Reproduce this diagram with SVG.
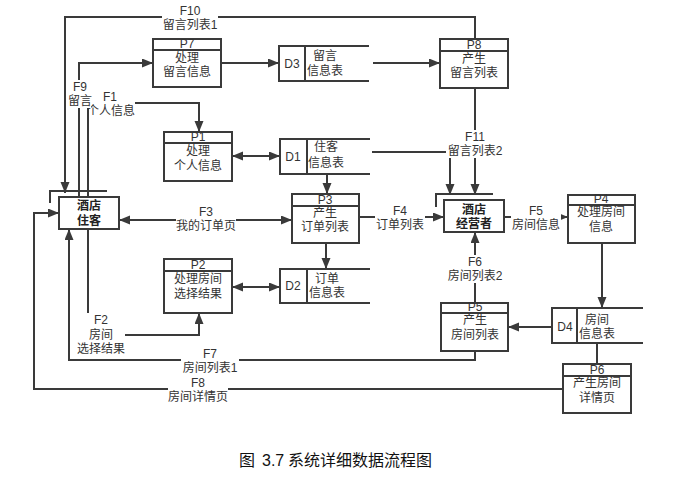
<svg xmlns="http://www.w3.org/2000/svg" width="699" height="485" viewBox="0 0 699 485">
<style>
text{font-family:"Liberation Sans","Noto Sans CJK SC",sans-serif;font-size:12px;fill:#333;text-anchor:middle;dominant-baseline:central}
.box{fill:#fff;stroke:#3a3a3a;stroke-width:2}
.ln{fill:none;stroke:#3a3a3a;stroke-width:2}
.c{fill:none;stroke:#3a3a3a;stroke-width:2}
.a{marker-end:url(#ah)}
.b{marker-start:url(#ah);marker-end:url(#ah)}
.bg{fill:#fff}
.ent{font-weight:bold;fill:#222}
.cap{font-size:16px;fill:#111;text-anchor:start;dominant-baseline:auto}
</style>
<defs>
<marker id="ah" markerUnits="userSpaceOnUse" markerWidth="12" markerHeight="10" refX="11" refY="4.5" orient="auto-start-reverse">
<path d="M0,0 L11,4.5 L0,9 z" fill="#3a3a3a"/>
</marker>
</defs>
<rect width="699" height="485" fill="#fff"/>

<g id="connectors">
<path class="c a" d="M475,39 V17 H65 V193"/>
<path class="c a" d="M79,197 V63 H153"/>
<path class="c a" d="M88,197 V103 H199 V132"/>
<path class="c b" d="M232,156 H280"/>
<path class="c a" d="M221,63 H279"/>
<path class="c a" d="M373,63 H440"/>
<path class="c a" d="M475,88 V195"/>
<path class="c a" d="M372,152 H450 V195"/>
<path class="c a" d="M327,174 V194"/>
<path class="c b" d="M119,220 H292"/>
<path class="c a" d="M359,217 H444"/>
<path class="c b" d="M232,287 H280"/>
<path class="c a" d="M326,243 V269"/>
<path class="c a" d="M88,229 V335 H199 V313"/>
<path class="c a" d="M475,351 V360 H69 V229"/>
<path class="c a" d="M563,389 H34 V213 H59"/>
<path class="c a" d="M504,217 H568"/>
<path class="c a" d="M602,243 V308"/>
<path class="c a" d="M552,327 H508"/>
<path class="c a" d="M475,303 V232"/>
<path class="c" d="M597,343 V364"/>
</g>

<g id="labels">
<rect class="bg" x="162" y="4" width="56" height="28"/>
<text x="190" y="11">F10</text><text x="190" y="25">留言列表1</text>
<rect class="bg" x="90" y="90" width="45" height="28"/>
<text x="110" y="97">F1</text><text x="111" y="111">个人信息</text>
<rect class="bg" x="67" y="80" width="24" height="28"/>
<text x="80" y="87">F9</text><text x="80" y="101">留言</text>
<rect class="bg" x="446" y="130" width="58" height="28"/>
<text x="475" y="137">F11</text><text x="475" y="151">留言列表2</text>
<rect class="bg" x="176" y="205" width="60" height="28"/>
<text x="206" y="212">F3</text><text x="206" y="226">我的订单页</text>
<rect class="bg" x="375" y="204" width="50" height="28"/>
<text x="400" y="211">F4</text><text x="400" y="225">订单列表</text>
<rect class="bg" x="511" y="204" width="50" height="28"/>
<text x="536" y="211">F5</text><text x="536" y="225">房间信息</text>
<rect class="bg" x="446" y="255" width="58" height="28"/>
<text x="475" y="262">F6</text><text x="475" y="276">房间列表2</text>
<rect class="bg" x="75" y="313" width="50" height="43"/>
<text x="101" y="320">F2</text><text x="101" y="335">房间</text><text x="101" y="349">选择结果</text>
<rect class="bg" x="181" y="347" width="58" height="28"/>
<text x="210" y="354">F7</text><text x="210" y="368">房间列表1</text>
<rect class="bg" x="168" y="376" width="60" height="28"/>
<text x="198" y="383">F8</text><text x="198" y="397">房间详情页</text>
</g>

<g id="guest">
<path class="ln" d="M50,203 V191 H107"/>
<rect class="box" x="59" y="197" width="60" height="32"/>
<text class="ent" x="89" y="206">酒店</text><text class="ent" x="89" y="221">住客</text>
</g>
<g id="manager">
<path class="ln" d="M436,207 V194 H493"/>
<rect class="box" x="444" y="200" width="60" height="32"/>
<text class="ent" x="474" y="210">酒店</text><text class="ent" x="474" y="224">经营者</text>
</g>

<g id="P7">
<rect class="box" x="153" y="39" width="68" height="48"/><path class="ln" d="M153,50 H221"/>
<text x="187" y="44">P7</text><text x="187" y="58">处理</text><text x="187" y="72">留言信息</text>
</g>
<g id="P8">
<rect class="box" x="440" y="39" width="68" height="49"/><path class="ln" d="M440,51 H508"/>
<text x="474" y="45">P8</text><text x="474" y="59">产生</text><text x="474" y="73">留言列表</text>
</g>
<g id="P1">
<rect class="box" x="164" y="132" width="68" height="49"/><path class="ln" d="M164,143 H232"/>
<text x="198" y="137">P1</text><text x="198" y="151">处理</text><text x="198" y="166">个人信息</text>
</g>
<g id="P3">
<rect class="box" x="292" y="194" width="67" height="49"/><path class="ln" d="M292,206 H359"/>
<text x="325" y="200">P3</text><text x="325" y="213">产生</text><text x="325" y="227">订单列表</text>
</g>
<g id="P2">
<rect class="box" x="164" y="259" width="68" height="54"/><path class="ln" d="M164,271 H232"/>
<text x="198" y="265">P2</text><text x="198" y="279">处理房间</text><text x="198" y="294">选择结果</text>
</g>
<g id="P4">
<rect class="box" x="568" y="195" width="67" height="48"/><path class="ln" d="M568,205 H635"/>
<text x="601" y="199">P4</text><text x="601" y="212">处理房间</text><text x="601" y="227">信息</text>
</g>
<g id="P5">
<rect class="box" x="441" y="303" width="67" height="48"/><path class="ln" d="M441,313 H508"/>
<text x="475" y="307">P5</text><text x="475" y="320">产生</text><text x="475" y="335">房间列表</text>
</g>
<g id="P6">
<rect class="box" x="563" y="364" width="68" height="49"/><path class="ln" d="M563,376 H631"/>
<text x="597" y="370">P6</text><text x="597" y="383">产生房间</text><text x="597" y="398">详情页</text>
</g>

<g id="D3">
<path class="ln" d="M369,46 H279 V81 H369 M305,46 V81"/>
<text x="292" y="64">D3</text><text x="325" y="56">留言</text><text x="325" y="71">信息表</text>
</g>
<g id="D1">
<path class="ln" d="M370,139 H280 V174 H370 M307,139 V174"/>
<text x="293" y="157">D1</text><text x="326" y="147">住客</text><text x="326" y="163">信息表</text>
</g>
<g id="D2">
<path class="ln" d="M370,269 H280 V303 H370 M307,269 V303"/>
<text x="293" y="286">D2</text><text x="327" y="279">订单</text><text x="327" y="293">信息表</text>
</g>
<g id="D4">
<path class="ln" d="M643,308 H552 V343 H643 M577,308 V343"/>
<text x="565" y="327">D4</text><text x="597" y="320">房间</text><text x="597" y="334">信息表</text>
</g>

<text class="cap" x="239" y="466">图</text>
<text class="cap" x="262" y="466">3.7</text>
<text class="cap" x="288" y="466">系统详细数据流程图</text>
</svg>
